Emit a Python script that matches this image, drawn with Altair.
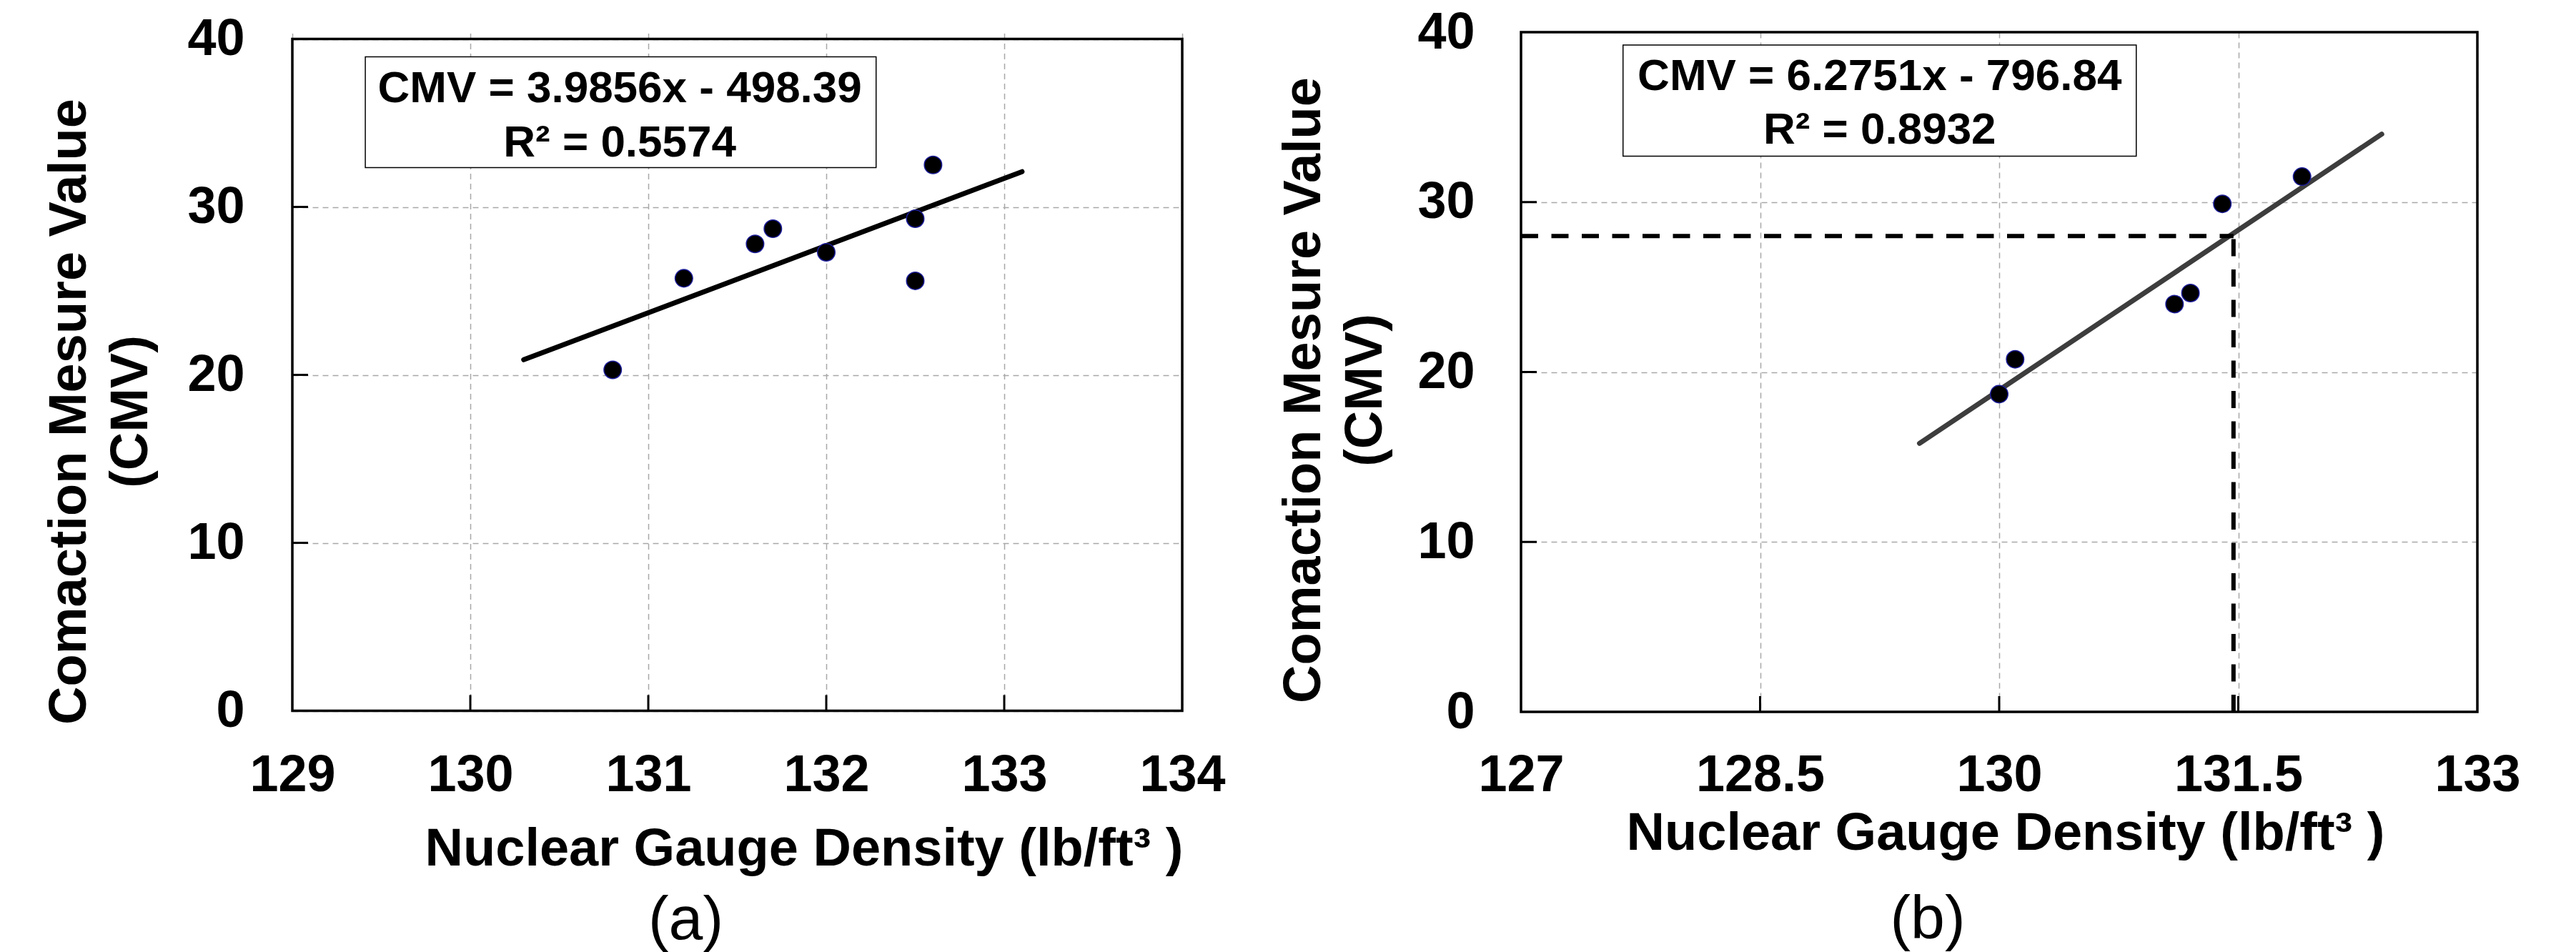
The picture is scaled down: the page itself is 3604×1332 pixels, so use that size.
import altair as alt
import pandas as pd

FONT = "Liberation Sans"

# ---------------- data ----------------
a_x = [130.8, 131.2, 131.6, 131.7, 132.0, 132.5, 132.5, 132.6]
a_y = [20.3, 25.75, 27.8, 28.7, 27.3, 29.3, 25.6, 32.5]
a_fit_x = [130.3, 133.1]
a_fit_y = [20.9, 32.1]
a_xticks = [129, 130, 131, 132, 133, 134]
a_eq_lines = ["CMV = 3.9856x - 498.39", "R² = 0.5574"]

b_x = [130.0, 130.1, 131.1, 131.2, 131.4, 131.9]
b_y = [18.7, 20.75, 24.0, 24.65, 29.9, 31.5]
b_fit_x = [129.5, 132.4]
b_fit_y = [15.8, 34.0]
b_xticks = [127, 128.5, 130, 131.5, 133]
b_eq_lines = ["CMV = 6.2751x - 796.84", "R² = 0.8932"]
b_guide_x = [127, 131.47]   # horizontal dashed guide (y = 28)
b_guide_y = [0, 28]         # vertical dashed guide (x = 131.47)

y_ticks = [0, 10, 20, 30, 40]

# annotation boxes: [x1, x2, y1, y2] and text anchor (x, line y's)
a_box = [129.41, 132.28, 38.94, 32.34]
a_text_x = 130.84
a_text_y = [36.25, 33.0]
b_box = [127.64, 130.86, 39.24, 32.7]
b_text_x = 129.25
b_text_y = [36.6, 33.45]

X_TITLE = "Nuclear Gauge Density (lb/ft³ )"
Y_TITLE = ["Comaction Mesure Value", "(CMV)"]

H = 951  # common panel height


def panel(px, py, fit_x, fit_y, xticks, eq_lines, box, text_x, text_y,
          W, top, bottom, line_color, x_title_pad, x_title_x, y_title_pad, y_title_y,
          y_label_pad, label, label_offset, label_dx, guides=None):
    xdom = [xticks[0], xticks[-1]]
    xenc = alt.X(
        "x:Q",
        scale=alt.Scale(domain=xdom, nice=False, zero=False),
        axis=alt.Axis(
            values=xticks, format=".1~f", title=X_TITLE, grid=True, ticks=False, domain=False,
            gridDash=[8, 6], gridColor="#a8a8a8", gridWidth=1.5,
            labelFont=FONT, labelFontSize=72, labelFontWeight="bold", labelColor="black",
            labelPadding=53, labelFlush=False, labelOverlap=False, labelLimit=600,
            titleFont=FONT, titleFontSize=74, titleFontWeight="bold", titleColor="black",
            titlePadding=x_title_pad, titleX=x_title_x, titleLimit=2000,
        ),
    )
    yenc = alt.Y(
        "y:Q",
        scale=alt.Scale(domain=[0, 40], nice=False, zero=False, range=[bottom, top]),
        axis=alt.Axis(
            values=y_ticks, format="d", title=Y_TITLE, grid=True, ticks=False, domain=False,
            gridDash=[8, 6], gridColor="#a8a8a8", gridWidth=1.5,
            labelFont=FONT, labelFontSize=72, labelFontWeight="bold", labelColor="black",
            labelPadding=y_label_pad, labelFlush=False, labelOverlap=False, labelLimit=600,
            titleFont=FONT, titleFontSize=74, titleFontWeight="bold", titleColor="black",
            titlePadding=y_title_pad, titleLineHeight=86, titleY=y_title_y, titleLimit=2000,
        ),
    )

    pts = pd.DataFrame({"x": px, "y": py})
    fit = pd.DataFrame({"x": fit_x, "y": fit_y})
    xt = pd.DataFrame({"x": xticks[1:-1]})
    yt = pd.DataFrame({"y": y_ticks[1:-1]})
    boxdf = pd.DataFrame({"x": [box[0]], "x2": [box[1]], "y": [box[2]], "y2": [box[3]]})
    txt = pd.DataFrame({"x": [text_x, text_x], "y": text_y, "t": eq_lines})

    layers = []
    layers.append(
        alt.Chart(fit).mark_line(color=line_color, strokeWidth=7, strokeCap="round")
        .encode(x=xenc, y=yenc)
    )
    if guides is not None:
        gx, gy = guides
        hdf = pd.DataFrame({"x": [gx[0]], "x2": [gx[1]], "y": [gy[1]]})
        vdf = pd.DataFrame({"x": [gx[1]], "y": [gy[0]], "y2": [gy[1]]})
        layers.append(
            alt.Chart(hdf).mark_rule(color="black", strokeWidth=6, strokeDash=[24, 18.5])
            .encode(x=xenc, x2="x2:Q", y=yenc)
        )
        layers.append(
            alt.Chart(vdf).mark_rule(color="black", strokeWidth=6, strokeDash=[24, 18.5])
            .encode(x=xenc, y=yenc, y2="y2:Q")
        )
    layers.append(
        alt.Chart(pts).mark_circle(size=600, color="black", opacity=1,
                                   stroke="#1c1c9a", strokeWidth=1.5)
        .encode(x=xenc, y=yenc)
    )
    layers.append(
        alt.Chart(boxdf).mark_rect(fill="white", stroke="black", strokeWidth=1.5)
        .encode(x=xenc, x2="x2:Q", y=yenc, y2="y2:Q")
    )
    layers.append(
        alt.Chart(txt).mark_text(font=FONT, fontSize=62, fontWeight="bold",
                                 color="black", align="center", baseline="alphabetic")
        .encode(x=xenc, y=yenc, text="t:N")
    )
    # inward ticks
    layers.append(
        alt.Chart(xt).mark_rule(color="black", strokeWidth=3)
        .encode(x=xenc, y=alt.value(bottom), y2=alt.value(bottom - 22))
    )
    layers.append(
        alt.Chart(yt).mark_rule(color="black", strokeWidth=3)
        .encode(y=yenc, x=alt.value(0), x2=alt.value(22))
    )
    # frame
    one = alt.Data(values=[{"k": 1}])
    layers.append(
        alt.Chart(one).mark_rect(fillOpacity=0, stroke="black", strokeWidth=3.5)
        .encode(x=alt.value(0), x2=alt.value(W), y=alt.value(top), y2=alt.value(bottom))
    )

    return alt.layer(*layers).properties(
        width=W, height=H,
        title=alt.TitleParams(label, orient="bottom", font=FONT, fontSize=86,
                              fontWeight="normal", color="black", offset=label_offset,
                              dx=label_dx, frame="group"),
    )


pa = panel(a_x, a_y, a_fit_x, a_fit_y, a_xticks, a_eq_lines, a_box, a_text_x, a_text_y,
           W=1245, top=9.5, bottom=949.5, line_color="black", x_title_pad=32, x_title_x=715.5,
           y_title_pad=40, y_title_y=530.5, y_label_pad=67,
           label="(a)", label_offset=21, label_dx=-72)
pb = panel(b_x, b_y, b_fit_x, b_fit_y, b_xticks, b_eq_lines, b_box, b_text_x, b_text_y,
           W=1338, top=0, bottom=H, line_color="#3d3d3d", x_title_pad=10, x_title_x=677.5,
           y_title_pad=34, y_title_y=500.5, y_label_pad=65,
           label="(b)", label_offset=42, label_dx=-100,
           guides=(b_guide_x, b_guide_y))

chart = alt.hconcat(pa, pb, spacing=72).properties(
    padding={"left": 52, "top": 1, "right": 5, "bottom": 5},
    background="white",
).configure_view(strokeWidth=0)

chart.save("out.html", embed_options={"renderer": "svg", "actions": False})
